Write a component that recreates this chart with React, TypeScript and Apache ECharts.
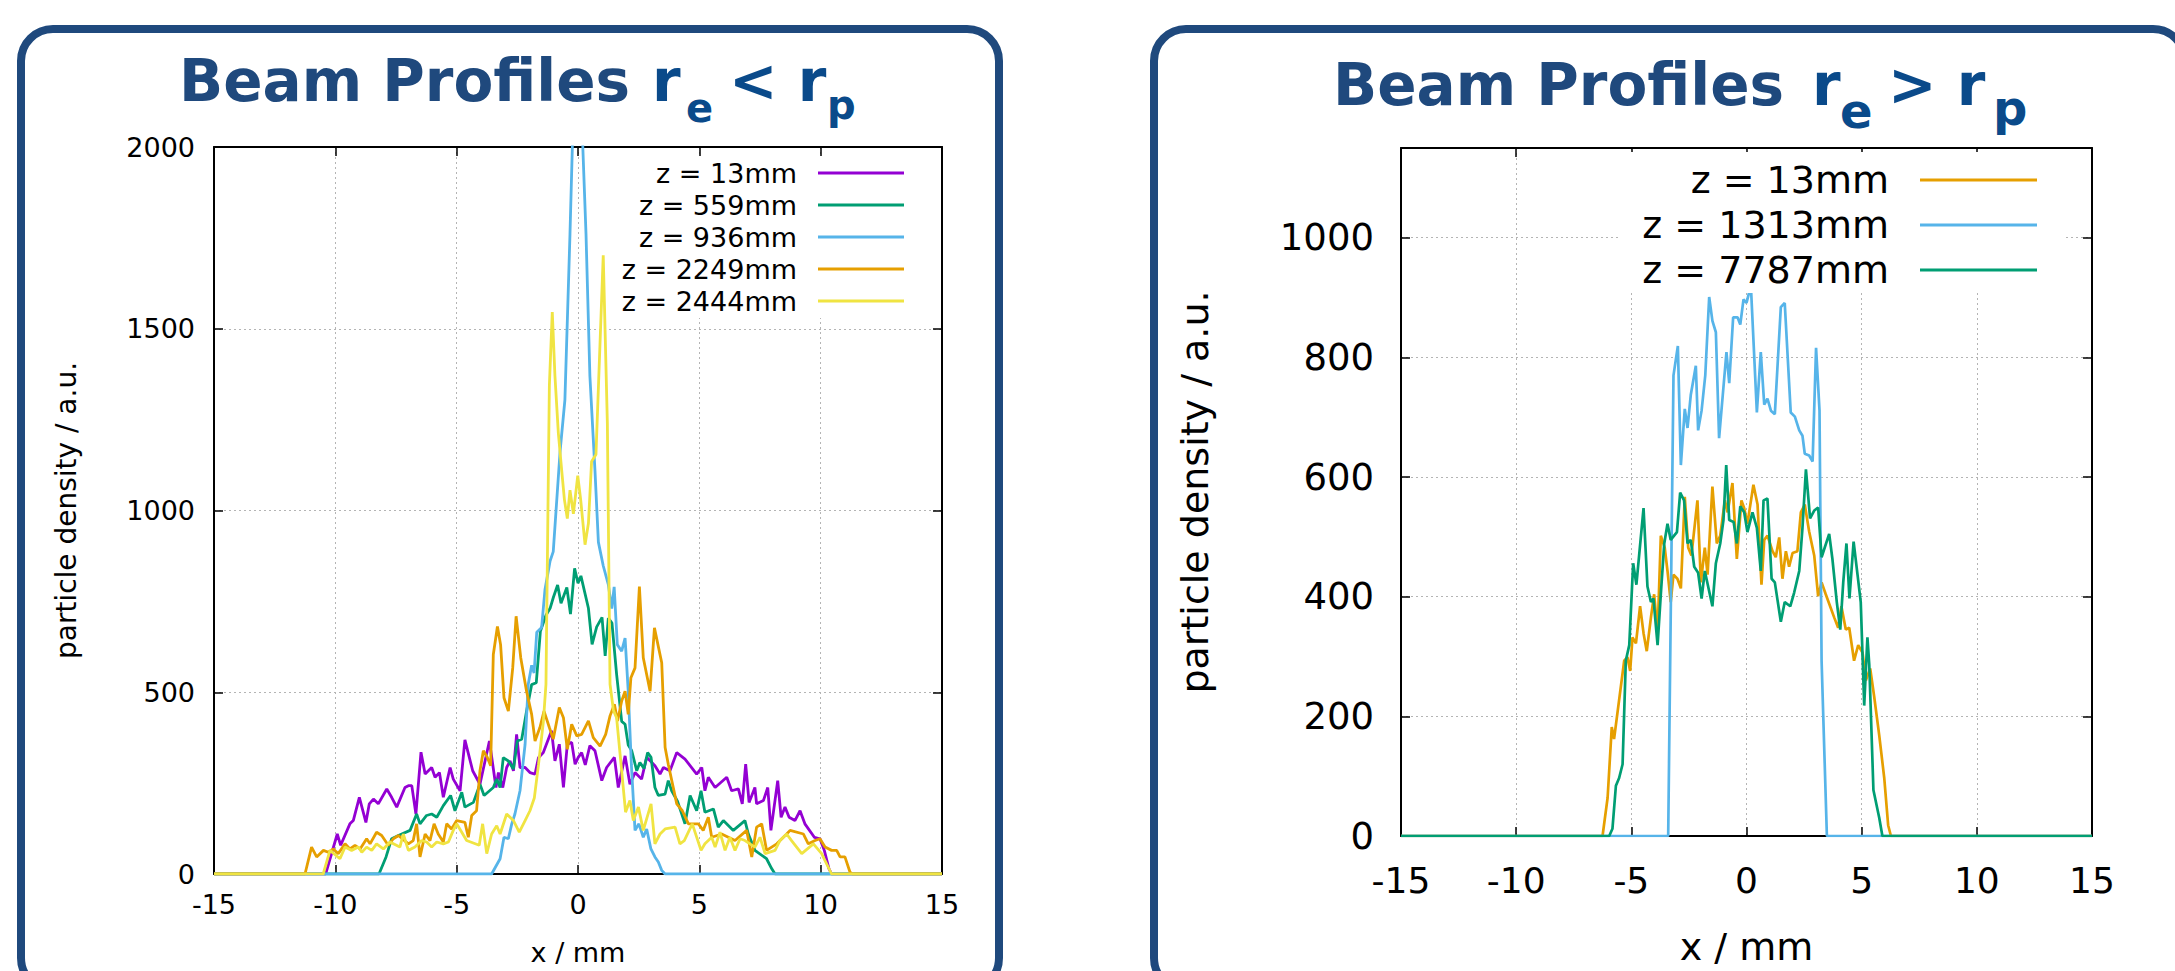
import React, { useEffect, useRef } from "react";
import * as echarts from "echarts";

const W = 2175;
const H = 971;
const FONT = "DejaVu Sans";

// ---------- Data: left chart (r_e < r_p) ----------
const leftNames = ["z = 13mm", "z = 559mm", "z = 936mm", "z = 2249mm", "z = 2444mm"];
const leftColors = ["#9400d3", "#009e73", "#56b4e9", "#e69f00", "#f0e442"];

const z13Left: number[][] = [
  [-15, 0], [-10.4, 0], [-9.92, 110], [-9.78, 79], [-9.4, 138], [-9.26, 147], [-9.01, 211], [-8.74, 142],
  [-8.6, 193], [-8.43, 206], [-8.23, 193], [-7.88, 234], [-7.68, 211], [-7.47, 184], [-7.13, 238], [-6.99, 243],
  [-6.85, 243], [-6.68, 165], [-6.47, 335], [-6.3, 275], [-6.03, 293], [-5.89, 266], [-5.71, 279], [-5.55, 211],
  [-5.27, 293], [-5.14, 261], [-4.86, 229], [-4.66, 369], [-4.34, 284], [-4.04, 247], [-3.65, 366], [-3.38, 238],
  [-3.28, 279], [-3.1, 238], [-2.94, 293], [-2.8, 311], [-2.66, 284], [-2.53, 384], [-2.39, 293], [-2.18, 293],
  [-1.98, 279], [-1.77, 275], [-1.63, 320], [-1.43, 334], [-1.09, 394], [-0.95, 311], [-0.77, 357], [-0.6, 238],
  [-0.44, 357], [-0.26, 362], [-0.12, 302], [0.01, 321], [0.15, 334], [0.3, 300], [0.49, 353], [0.7, 339],
  [0.98, 257], [1.18, 293], [1.5, 321], [1.66, 238], [1.94, 325], [2.14, 247], [2.35, 279], [2.62, 261],
  [2.83, 321], [3.17, 298], [3.38, 275], [3.52, 293], [3.79, 284], [4.07, 334], [4.41, 316], [4.89, 275],
  [5.1, 293], [5.23, 229], [5.37, 266], [5.65, 238], [6.13, 266], [6.33, 229], [6.61, 234], [6.77, 193],
  [6.91, 302], [7.05, 197], [7.29, 238], [7.36, 193], [7.64, 202], [7.82, 238], [7.95, 120], [8.23, 257],
  [8.37, 156], [8.53, 184], [8.7, 156], [8.94, 147], [9.15, 174], [9.35, 138], [9.74, 101], [9.97, 97],
  [10.15, 65], [10.34, 15], [10.45, 0], [15, 0],
];

const z559: number[][] = [
  [-15, 0], [-8.2, 0], [-7.91, 47], [-7.68, 97], [-7.4, 106], [-6.92, 120], [-6.65, 165], [-6.51, 138],
  [-6.24, 161], [-6.03, 165], [-5.82, 156], [-5.55, 188], [-5.25, 216], [-5.07, 174], [-4.79, 225], [-4.66, 184],
  [-4.31, 197], [-4.04, 247], [-3.87, 216], [-3.49, 238], [-3.35, 261], [-3.21, 238], [-3.08, 320], [-2.87, 311],
  [-2.66, 289], [-2.5, 366], [-2.32, 371], [-2.12, 448], [-1.91, 521], [-1.72, 526], [-1.55, 668], [-1.32, 712],
  [-1.15, 731], [-1.02, 760], [-0.84, 795], [-0.7, 745], [-0.46, 788], [-0.31, 715], [-0.14, 841], [0.0, 800],
  [0.12, 820], [0.43, 731], [0.58, 632], [0.77, 680], [0.99, 706], [1.12, 600], [1.25, 704], [1.4, 690],
  [1.59, 550], [1.8, 420], [1.94, 412], [2.07, 355], [2.21, 340], [2.42, 284], [2.55, 307], [2.72, 290],
  [2.87, 334], [3.01, 321], [3.17, 238], [3.31, 216], [3.59, 220], [3.72, 257], [3.86, 229], [4.1, 200],
  [4.41, 138], [4.62, 216], [4.89, 174], [5.07, 229], [5.23, 170], [5.58, 179], [5.78, 129], [5.99, 147],
  [6.4, 120], [6.88, 147], [7.02, 110], [7.29, 65], [7.77, 42], [7.98, 15], [8.12, 0], [15, 0],
];

const z936: number[][] = [
  [-15, 0], [-3.56, 0], [-3.21, 42], [-3.05, 101], [-2.87, 97], [-2.73, 138], [-2.6, 165], [-2.39, 229],
  [-2.18, 357], [-2.05, 522], [-1.91, 574], [-1.81, 553], [-1.7, 665], [-1.5, 678], [-1.36, 783], [-1.15, 861],
  [-1.02, 887], [-0.74, 1161], [-0.54, 1304], [-0.33, 1761], [-0.05, 2450], [0.33, 1761], [0.49, 1370],
  [0.7, 1109], [0.84, 913], [1.04, 848], [1.25, 796], [1.39, 730], [1.49, 790], [1.62, 631], [1.8, 613],
  [1.94, 649], [2.07, 503], [2.2, 300], [2.35, 120], [2.51, 138], [2.69, 101], [2.83, 124], [3.0, 70],
  [3.17, 47], [3.31, 33], [3.45, 10], [3.59, 0], [15, 0],
];

const z2249: number[][] = [
  [-15, 0], [-11.25, 0], [-10.98, 74], [-10.77, 47], [-10.49, 65], [-10.29, 60], [-10.08, 69], [-9.88, 56],
  [-9.6, 83], [-9.4, 69], [-9.19, 79], [-8.98, 69], [-8.71, 97], [-8.57, 83], [-8.3, 115], [-8.09, 106],
  [-7.82, 79], [-7.61, 97], [-7.4, 106], [-6.99, 83], [-6.79, 92], [-6.65, 138], [-6.51, 47], [-6.3, 110],
  [-6.1, 92], [-5.93, 138], [-5.76, 110], [-5.55, 88], [-5.41, 138], [-5.21, 124], [-5.0, 147], [-4.66, 142],
  [-4.52, 101], [-4.38, 161], [-4.18, 174], [-4.04, 284], [-3.9, 339], [-3.74, 321], [-3.6, 298], [-3.49, 604],
  [-3.32, 681], [-3.19, 631], [-3.05, 485], [-2.87, 448], [-2.69, 567], [-2.55, 709], [-2.36, 595], [-2.12, 503],
  [-1.91, 439], [-1.77, 366], [-1.57, 403], [-1.4, 448], [-1.18, 403], [-1.02, 371], [-0.77, 458], [-0.6, 430],
  [-0.44, 343], [-0.26, 412], [-0.05, 380], [0.15, 384], [0.43, 421], [0.63, 375], [0.91, 352], [1.14, 384],
  [1.32, 435], [1.5, 467], [1.63, 421], [1.8, 476], [1.94, 503], [2.07, 439], [2.18, 540], [2.35, 567],
  [2.53, 791], [2.69, 595], [2.97, 503], [3.15, 677], [3.45, 581], [3.59, 348], [3.72, 302], [4.07, 193],
  [4.3, 174], [4.55, 138], [4.96, 138], [5.16, 120], [5.37, 156], [5.51, 101], [5.92, 110], [6.47, 92],
  [6.95, 120], [7.16, 47], [7.36, 129], [7.57, 138], [7.77, 65], [8.19, 83], [8.6, 110], [8.74, 120],
  [9.29, 110], [9.49, 83], [9.77, 92], [9.97, 97], [10.18, 74], [10.45, 65], [10.66, 65], [10.8, 47],
  [11.0, 47], [11.21, 5], [11.3, 0], [15, 0],
];

const z2444: number[][] = [
  [-15, 0], [-10.5, 0], [-10.22, 65], [-9.81, 42], [-9.6, 74], [-9.33, 65], [-9.05, 74], [-8.91, 60],
  [-8.71, 74], [-8.5, 65], [-8.3, 83], [-8.02, 69], [-7.75, 88], [-7.34, 74], [-7.2, 110], [-6.99, 65],
  [-6.72, 74], [-6.44, 92], [-6.24, 88], [-6.03, 74], [-5.82, 88], [-5.55, 83], [-5.34, 88], [-5.14, 120],
  [-5.0, 138], [-4.79, 115], [-4.59, 92], [-4.07, 79], [-3.93, 138], [-3.76, 56], [-3.56, 110], [-3.35, 133],
  [-3.21, 110], [-2.94, 165], [-2.66, 147], [-2.42, 115], [-2.18, 147], [-1.98, 174], [-1.8, 209], [-1.63, 300],
  [-1.43, 417], [-1.32, 522], [-1.18, 1343], [-1.06, 1546], [-0.95, 1370], [-0.81, 1213], [-0.67, 1109],
  [-0.56, 1030], [-0.44, 978], [-0.33, 1056], [-0.19, 991], [-0.01, 1096], [0.11, 1030], [0.29, 906],
  [0.43, 965], [0.56, 1135], [0.74, 1154], [1.04, 1702], [1.21, 1239], [1.32, 522], [1.46, 450], [1.59, 430],
  [1.8, 284], [1.96, 170], [2.14, 202], [2.28, 147], [2.49, 184], [2.69, 120], [3.01, 193], [3.17, 83],
  [3.38, 110], [3.59, 124], [4.0, 129], [4.2, 83], [4.38, 92], [4.71, 138], [5.07, 65], [5.23, 83],
  [5.51, 101], [5.65, 74], [5.85, 115], [6.06, 65], [6.26, 101], [6.47, 65], [6.68, 97], [6.88, 92],
  [7.29, 74], [7.5, 101], [7.71, 56], [8.12, 65], [8.32, 92], [8.6, 110], [8.8, 92], [9.22, 56],
  [9.7, 83], [10.04, 56], [10.18, 37], [10.45, 0], [15, 0],
];

// ---------- Data: right chart (r_e > r_p) ----------
const rightNames = ["z = 13mm", "z = 1313mm", "z = 7787mm"];
const rightColors = ["#e69f00", "#56b4e9", "#009e73"];

const z13Right: number[][] = [
  [-15, 0], [-6.25, 0], [-6.03, 64], [-5.85, 182], [-5.75, 162], [-5.31, 293], [-5.17, 299], [-5.05, 276],
  [-4.95, 332], [-4.8, 322], [-4.62, 384], [-4.47, 339], [-4.33, 309], [-4.15, 365], [-4.01, 404], [-3.86, 339],
  [-3.72, 502], [-3.55, 482], [-3.43, 443], [-3.29, 391], [-3.17, 437], [-3.0, 430], [-2.85, 414], [-2.68, 567],
  [-2.53, 482], [-2.39, 469], [-2.13, 561], [-1.98, 424], [-1.81, 482], [-1.69, 437], [-1.48, 584], [-1.29, 489],
  [-1.14, 502], [-0.94, 561], [-0.82, 541], [-0.61, 590], [-0.42, 463], [-0.22, 561], [-0.1, 548], [0.04, 522],
  [0.3, 587], [0.48, 554], [0.65, 420], [0.77, 495], [0.91, 502], [1.13, 476], [1.27, 466], [1.42, 499],
  [1.56, 430], [1.71, 476], [1.85, 450], [2.0, 473], [2.21, 476], [2.36, 541], [2.53, 554], [2.72, 509],
  [2.94, 469], [3.11, 401], [3.26, 424], [3.44, 404], [3.63, 384], [3.81, 365], [3.98, 348], [4.12, 384],
  [4.31, 345], [4.46, 348], [4.67, 293], [4.85, 319], [5.04, 306], [5.18, 260], [5.37, 280], [5.54, 234],
  [5.76, 169], [5.98, 97], [6.15, 18], [6.27, 0], [15, 0],
];

const z1313: number[][] = [
  [-15, 0], [-3.4, 0], [-3.17, 770], [-2.98, 819], [-2.85, 620], [-2.68, 714], [-2.56, 682], [-2.42, 737],
  [-2.2, 786], [-2.1, 678], [-1.95, 711], [-1.79, 770], [-1.62, 901], [-1.48, 861], [-1.33, 842], [-1.19, 665],
  [-0.87, 809], [-0.75, 757], [-0.58, 867], [-0.39, 867], [-0.27, 855], [-0.13, 897], [0.0, 891], [0.19, 920],
  [0.45, 708], [0.62, 809], [0.77, 721], [0.91, 731], [1.06, 711], [1.23, 705], [1.49, 884], [1.66, 891],
  [1.92, 708], [2.1, 701], [2.29, 678], [2.43, 669], [2.53, 639], [2.72, 636], [2.87, 626], [3.02, 816],
  [3.17, 711], [3.26, 293], [3.49, 0], [15, 0],
];

const z7787: number[][] = [
  [-15, 0], [-5.96, 0], [-5.82, 12], [-5.67, 84], [-5.53, 97], [-5.38, 120], [-5.24, 293], [-5.09, 319],
  [-4.92, 456], [-4.78, 420], [-4.47, 548], [-4.3, 417], [-4.15, 391], [-4.04, 397], [-3.86, 319], [-3.72, 404],
  [-3.57, 489], [-3.43, 522], [-3.29, 495], [-3.02, 508], [-2.88, 574], [-2.71, 561], [-2.56, 489], [-2.42, 495],
  [-2.27, 450], [-2.1, 440], [-1.95, 397], [-1.81, 443], [-1.48, 384], [-1.33, 456], [-1.14, 489], [-1.0, 528],
  [-0.88, 620], [-0.75, 528], [-0.56, 525], [-0.42, 489], [-0.27, 551], [-0.1, 541], [0.04, 508], [0.26, 541],
  [0.45, 515], [0.62, 443], [0.74, 561], [0.91, 564], [1.09, 430], [1.23, 424], [1.49, 358], [1.66, 391],
  [1.9, 384], [2.07, 407], [2.29, 443], [2.43, 515], [2.58, 613], [2.76, 531], [2.94, 544], [3.11, 549],
  [3.26, 466], [3.59, 505], [3.73, 463], [3.92, 391], [4.07, 345], [4.2, 424], [4.34, 489], [4.47, 397],
  [4.65, 492], [4.82, 437], [4.96, 391], [5.11, 218], [5.25, 332], [5.33, 286], [5.51, 77], [5.76, 31],
  [5.9, 0], [15, 0],
];

const leftSeriesData = [z13Left, z559, z936, z2249, z2444];
const rightSeriesData = [z13Right, z1313, z7787];

const xTicks = { min: -15, max: 15, interval: 5 };
const leftY = { min: 0, max: 2000, interval: 500 };
const rightY = { min: 0, max: 1150, interval: 200 };

const xLabel = "x / mm";
const yLabel = "particle density / a.u.";

const BOX = "#1f497d";
const TITLE = "#1f497d";
const MATH = "#0a4a8a";

function buildOption(): any {
  const axisLine = { show: true, onZero: false, lineStyle: { color: "#000", width: 2 } };
  const tick = { show: true, inside: true, length: 9, lineStyle: { color: "#000", width: 1.5 } };
  const split = { show: true, lineStyle: { color: "#b4b4b4", width: 1, type: [2, 3] } };
  const plain = (v: number) => String(v);

  const xAxes = [
    {
      gridIndex: 0, type: "value", position: "bottom", ...xTicks, axisLine, axisTick: tick, splitLine: split,
      axisLabel: { fontSize: 27, fontFamily: FONT, color: "#000", margin: 17, formatter: plain },
      name: xLabel, nameLocation: "middle", nameGap: 65,
      nameTextStyle: { fontSize: 27, fontFamily: FONT, color: "#000" },
    },
    { gridIndex: 0, type: "value", position: "top", ...xTicks, axisLine, axisTick: tick, splitLine: { show: false }, axisLabel: { show: false } },
    {
      gridIndex: 1, type: "value", position: "bottom", ...xTicks, axisLine, axisTick: tick, splitLine: split,
      axisLabel: { fontSize: 36, fontFamily: FONT, color: "#000", margin: 26, formatter: plain },
      name: xLabel, nameLocation: "middle", nameGap: 92,
      nameTextStyle: { fontSize: 38, fontFamily: FONT, color: "#000" },
    },
    { gridIndex: 1, type: "value", position: "top", ...xTicks, axisLine, axisTick: tick, splitLine: { show: false }, axisLabel: { show: false } },
  ];

  const yAxes = [
    {
      gridIndex: 0, type: "value", position: "left", ...leftY, axisLine, axisTick: tick, splitLine: split,
      axisLabel: { fontSize: 27, fontFamily: FONT, color: "#000", margin: 19, formatter: plain },
      name: yLabel, nameLocation: "middle", nameGap: 134,
      nameTextStyle: { fontSize: 28, fontFamily: FONT, color: "#000" },
    },
    { gridIndex: 0, type: "value", position: "right", ...leftY, axisLine, axisTick: tick, splitLine: { show: false }, axisLabel: { show: false } },
    {
      gridIndex: 1, type: "value", position: "left", ...rightY, axisLine, axisTick: tick, splitLine: split,
      axisLabel: {
        fontSize: 37, fontFamily: FONT, color: "#000", margin: 27,
        formatter: (v: number) => (v % 200 === 0 ? String(v) : ""),
      },
      name: yLabel, nameLocation: "middle", nameGap: 187,
      nameTextStyle: { fontSize: 38, fontFamily: FONT, color: "#000" },
    },
    { gridIndex: 1, type: "value", position: "right", ...rightY, axisLine, axisTick: tick, splitLine: { show: false }, axisLabel: { show: false } },
  ];

  const series: any[] = [];
  leftSeriesData.forEach((d, i) => {
    series.push({
      type: "line", name: leftNames[i], xAxisIndex: 0, yAxisIndex: 0, data: d,
      showSymbol: false, symbol: "none", clip: true, silent: true,
      lineStyle: { width: 2.8, color: leftColors[i] }, itemStyle: { color: leftColors[i] },
    });
  });
  rightSeriesData.forEach((d, i) => {
    series.push({
      type: "line", name: rightNames[i], xAxisIndex: 2, yAxisIndex: 2, data: d,
      showSymbol: false, symbol: "none", clip: true, silent: true,
      lineStyle: { width: 2.7, color: rightColors[i] }, itemStyle: { color: rightColors[i] },
    });
  });

  const titleText = (text: string, x: number, y: number, size: number, fill: string) => ({
    type: "text", x, y, silent: true, z: 10,
    style: { text, fontSize: size, fontFamily: FONT, fontWeight: "bold", fill, align: "left", verticalAlign: "middle" },
  });

  return {
    animation: false,
    backgroundColor: "#fff",
    grid: [
      { left: 214, right: W - 942, top: 147, bottom: H - 877, containLabel: false },
      { left: 1401, right: W - 2092, top: 148, bottom: H - 838, containLabel: false },
    ],
    xAxis: xAxes,
    yAxis: yAxes,
    legend: [
      {
        orient: "vertical", align: "right", right: W - 914, top: 156, padding: [3, 10, 3, 8],
        backgroundColor: "#fff", itemGap: 4, itemWidth: 86, itemHeight: 3, icon: "rect", selectedMode: false,
        textStyle: { fontSize: 27, fontFamily: FONT, color: "#000", lineHeight: 28, padding: [0, 16, 0, 0] },
        data: leftNames.map((n, i) => ({ name: n, itemStyle: { color: leftColors[i] } })),
      },
      {
        orient: "vertical", align: "right", right: W - 2065, top: 152, padding: [8, 28, 3, 22],
        backgroundColor: "#fff", itemGap: 5, itemWidth: 117, itemHeight: 3, icon: "rect", selectedMode: false,
        textStyle: { fontSize: 38, fontFamily: FONT, color: "#000", lineHeight: 40, padding: [0, 26, 0, 0] },
        data: rightNames.map((n, i) => ({ name: n, itemStyle: { color: rightColors[i] } })),
      },
    ],
    graphic: [
      { type: "rect", silent: true, z: -10, shape: { x: 21, y: 29, width: 978, height: 961, r: 32 }, style: { fill: "none", stroke: BOX, lineWidth: 8 } },
      { type: "rect", silent: true, z: -10, shape: { x: 1154, y: 29, width: 1031, height: 961, r: 32 }, style: { fill: "none", stroke: BOX, lineWidth: 8 } },
      titleText("Beam Profiles ", 179, 81, 58, TITLE),
      titleText("r", 652, 81, 58, MATH),
      titleText("e", 686, 108, 40, MATH),
      titleText("< r", 729, 81, 58, MATH),
      titleText("p", 827, 105, 40, MATH),
      titleText("Beam Profiles ", 1333, 85, 58, TITLE),
      titleText("r", 1812, 85, 58, MATH),
      titleText("e", 1840, 111, 48, MATH),
      titleText("> r", 1888, 85, 58, MATH),
      titleText("p", 1993, 108, 48, MATH),
    ],
    series,
  };
}

export default function App() {
  const ref = useRef<HTMLDivElement>(null);
  useEffect(() => {
    if (!ref.current) return;
    const chart = echarts.init(ref.current, null, { renderer: "svg", width: W, height: H });
    chart.setOption(buildOption());
    return () => chart.dispose();
  }, []);
  return (
    <div
      ref={ref}
      style={{ position: "fixed", left: 0, top: 0, width: W, height: H, background: "#fff", overflow: "hidden" }}
    />
  );
}
